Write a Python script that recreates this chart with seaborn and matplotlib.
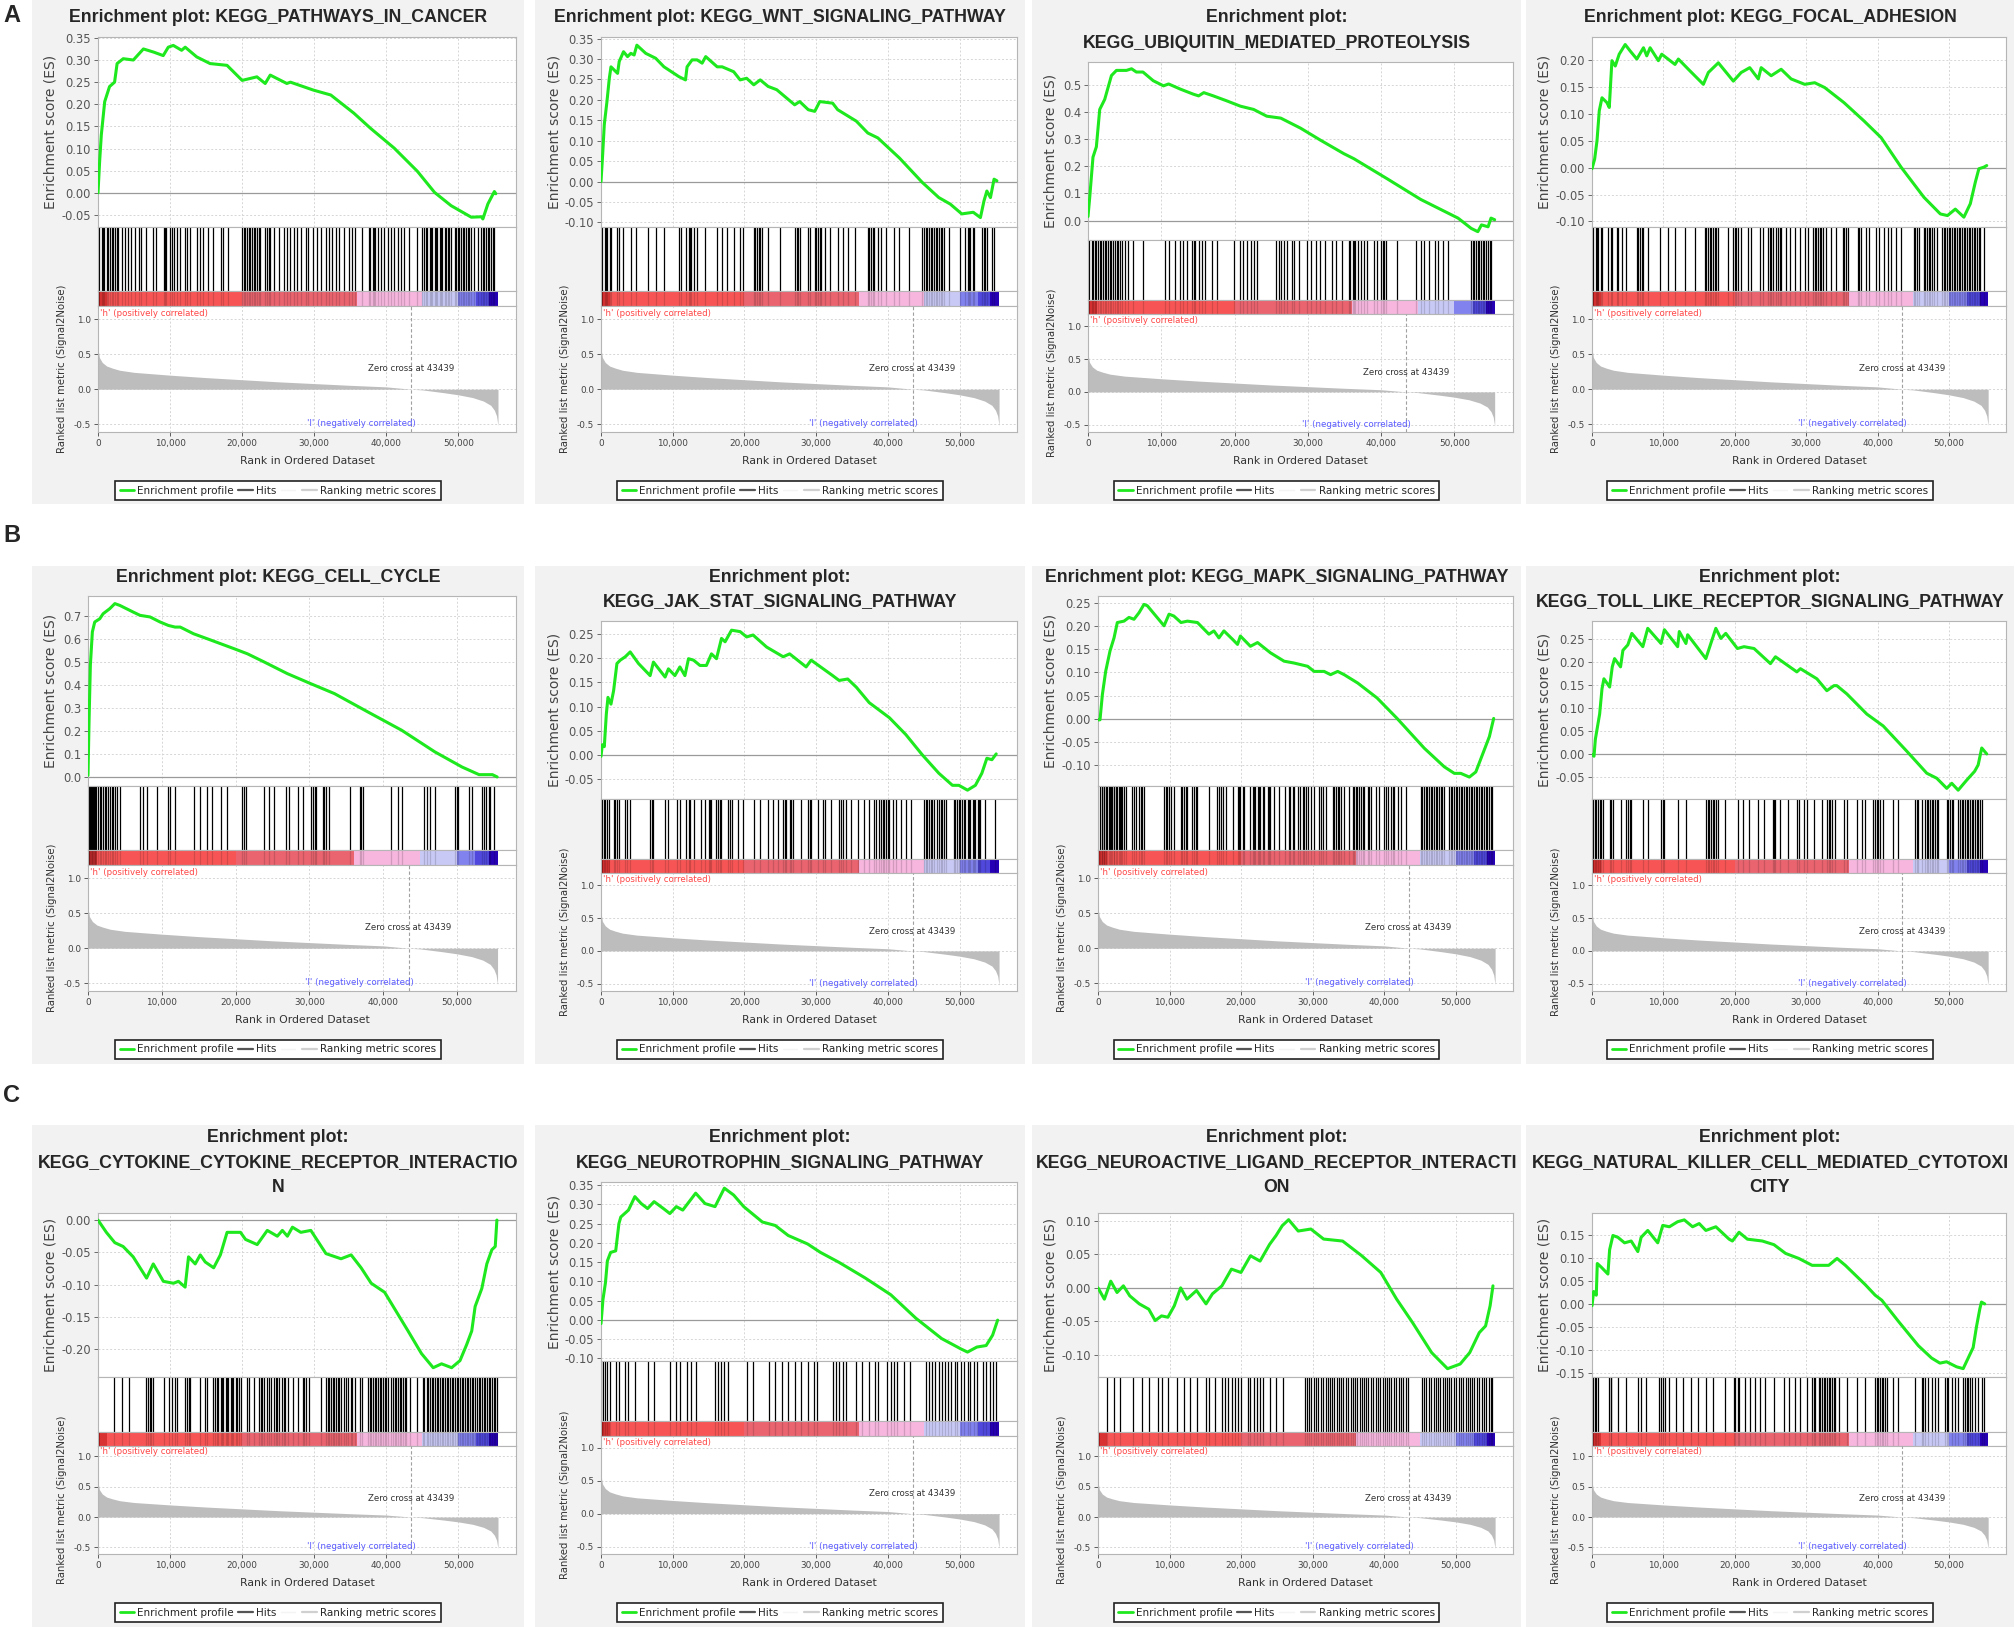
import numpy as np
import matplotlib
matplotlib.use("Agg")
import matplotlib.pyplot as plt
from matplotlib.lines import Line2D
from matplotlib.patches import Rectangle
import seaborn as sns

# ---------------- data (ranks in thousands) ----------------
# shared ranked list metric (Signal2Noise)
rank_x = [0, 0.2, 0.6, 1.2, 2.0, 3.0, 5.0, 7.5, 10.0, 15.0, 20.0, 25.0, 30.0, 35.0, 40.0,
          43.439, 45.0, 48.0, 50.0, 52.0, 53.5, 54.5, 55.0, 55.3, 55.5]
rank_y = [0.58, 0.45, 0.38, 0.33, 0.30, 0.27, 0.24, 0.22, 0.20, 0.165, 0.135, 0.105, 0.08, 0.055, 0.033,
          0.0, -0.01, -0.05, -0.08, -0.12, -0.17, -0.23, -0.30, -0.38, -0.52]
zero_cross = 43439

# colour strip under the hits
band_edges = [0, 0.3, 1.2, 20, 36, 45, 50, 52.5, 54.3, 55.5]
band_colors = ['#a51010', '#d83232', '#f75555', '#ea6470', '#f6b6de', '#c9c9f6', '#8282ee', '#5048dc', '#2600b4']

titles = [
    "Enrichment plot: KEGG_PATHWAYS_IN_CANCER",
    "Enrichment plot: KEGG_WNT_SIGNALING_PATHWAY",
    "Enrichment plot:\nKEGG_UBIQUITIN_MEDIATED_PROTEOLYSIS",
    "Enrichment plot: KEGG_FOCAL_ADHESION",
    "Enrichment plot: KEGG_CELL_CYCLE",
    "Enrichment plot:\nKEGG_JAK_STAT_SIGNALING_PATHWAY",
    "Enrichment plot: KEGG_MAPK_SIGNALING_PATHWAY",
    "Enrichment plot:\nKEGG_TOLL_LIKE_RECEPTOR_SIGNALING_PATHWAY",
    "Enrichment plot:\nKEGG_CYTOKINE_CYTOKINE_RECEPTOR_INTERACTIO\nN",
    "Enrichment plot:\nKEGG_NEUROTROPHIN_SIGNALING_PATHWAY",
    "Enrichment plot:\nKEGG_NEUROACTIVE_LIGAND_RECEPTOR_INTERACTI\nON",
    "Enrichment plot:\nKEGG_NATURAL_KILLER_CELL_MEDIATED_CYTOTOXI\nCITY",
]

# enrichment profiles: (rank in thousands, ES)
es_cancer = [(0, 0), (0.23, 0.072), (0.46, 0.131), (0.93, 0.206), (1.6, 0.24), (2.3, 0.25), (2.65, 0.292),
             (3.5, 0.303), (4.9, 0.30), (6.3, 0.325), (7.7, 0.318), (9.05, 0.31), (9.75, 0.329), (10.45, 0.333),
             (11.6, 0.322), (12.1, 0.329), (13.7, 0.307), (15.55, 0.292), (17.9, 0.288), (20.0, 0.254),
             (22.05, 0.262), (23.2, 0.247), (23.9, 0.266), (26.2, 0.247), (26.7, 0.25), (29.9, 0.232),
             (32.3, 0.221), (35.5, 0.18), (37.8, 0.146), (41.1, 0.101), (44.3, 0.049), (46.7, 0.001),
             (49.0, -0.029), (51.8, -0.055), (53.2, -0.054), (53.4, -0.059), (54.1, -0.025), (55.0, 0.003),
             (55.2, -0.002)]
es_wnt = [(0, 0), (0.23, 0.066), (0.46, 0.14), (0.83, 0.196), (1.16, 0.253), (1.39, 0.281), (1.85, 0.273),
          (2.31, 0.265), (2.54, 0.294), (3.14, 0.318), (3.7, 0.306), (4.16, 0.314), (4.62, 0.31), (5.0, 0.334),
          (6.24, 0.314), (7.62, 0.302), (8.78, 0.281), (10.17, 0.265), (10.86, 0.257), (11.78, 0.249),
          (12.0, 0.281), (12.7, 0.298), (13.4, 0.298), (14.1, 0.29), (14.6, 0.306), (16.2, 0.281), (16.9, 0.281),
          (18.5, 0.269), (19.4, 0.249), (20.3, 0.253), (21.3, 0.237), (22.2, 0.249), (23.3, 0.233),
          (24.5, 0.225), (27.0, 0.188), (27.7, 0.196), (28.9, 0.176), (29.8, 0.172), (30.5, 0.196),
          (32.3, 0.192), (33.0, 0.176), (35.6, 0.148), (37.2, 0.119), (38.6, 0.107), (41.6, 0.058),
          (44.8, -0.002), (47.1, -0.039), (48.7, -0.055), (50.3, -0.079), (51.9, -0.075), (52.9, -0.088),
          (53.4, -0.047), (53.8, -0.023), (54.3, -0.039), (54.8, 0.006), (55.2, 0.002)]
es_ubiquitin = [(0, 0.015), (0.23, 0.084), (0.68, 0.234), (1.14, 0.272), (1.6, 0.41), (2.28, 0.447),
                (2.74, 0.491), (3.2, 0.535), (3.88, 0.554), (5.25, 0.554), (5.94, 0.56), (6.6, 0.548),
                (7.5, 0.548), (8.9, 0.516), (10.3, 0.497), (11.0, 0.504), (12.6, 0.485), (14.4, 0.466),
                (15.1, 0.46), (15.8, 0.472), (17.1, 0.46), (19.0, 0.441), (20.8, 0.422), (22.6, 0.41),
                (24.4, 0.385), (26.3, 0.378), (29.0, 0.341), (31.7, 0.297), (34.9, 0.247), (36.3, 0.228),
                (40.9, 0.153), (45.4, 0.078), (50.5, 0.009), (52.3, -0.029), (53.2, -0.041), (53.7, -0.016),
                (54.6, -0.023), (55.0, 0.009), (55.5, 0.003)]
es_focal = [(0, -0.002), (0.37, 0.016), (0.7, 0.05), (1.02, 0.106), (1.4, 0.13), (2.09, 0.121), (2.42, 0.112),
            (2.79, 0.199), (3.26, 0.189), (3.81, 0.211), (4.65, 0.229), (5.35, 0.217), (6.28, 0.202),
            (7.21, 0.223), (7.67, 0.208), (8.14, 0.223), (9.3, 0.199), (9.77, 0.211), (11.63, 0.192),
            (12.1, 0.202), (13.5, 0.183), (15.6, 0.155), (16.3, 0.177), (17.7, 0.195), (19.8, 0.161),
            (20.9, 0.177), (22.1, 0.186), (23.3, 0.165), (23.7, 0.186), (25.1, 0.171), (26.5, 0.183),
            (27.9, 0.165), (29.8, 0.155), (31.2, 0.158), (32.6, 0.149), (35.3, 0.121), (38.1, 0.087),
            (40.5, 0.056), (43.3, 0.001), (46.5, -0.055), (48.8, -0.086), (49.8, -0.089), (50.9, -0.077),
            (52.1, -0.092), (53.0, -0.067), (53.7, -0.027), (54.2, -0.002), (54.9, 0.001), (55.3, 0.004)]
es_cellcycle = [(0, 0.007), (0.14, 0.239), (0.32, 0.485), (0.59, 0.63), (0.91, 0.673), (1.59, 0.687),
                (2.05, 0.709), (2.95, 0.731), (3.64, 0.753), (4.32, 0.745), (6.14, 0.716), (7.05, 0.702),
                (8.41, 0.695), (9.77, 0.673), (10.9, 0.658), (11.8, 0.651), (12.5, 0.651), (14.3, 0.622),
                (16.1, 0.601), (17.95, 0.579), (19.8, 0.557), (21.6, 0.535), (23.9, 0.499), (27.0, 0.449),
                (30.2, 0.405), (33.4, 0.362), (37.95, 0.282), (42.5, 0.203), (47.0, 0.109), (50.7, 0.043),
                (53.0, 0.01), (54.8, 0.01), (55.45, 0.0)]
es_jakstat = [(0, -0.003), (0.19, 0.021), (0.46, 0.017), (0.74, 0.084), (0.97, 0.119), (1.39, 0.105),
              (1.76, 0.133), (2.22, 0.189), (2.69, 0.196), (3.38, 0.203), (4.07, 0.213), (5.23, 0.189),
              (6.85, 0.164), (7.31, 0.192), (8.94, 0.161), (9.4, 0.178), (10.3, 0.164), (11.0, 0.182),
              (11.7, 0.164), (12.2, 0.199), (12.9, 0.196), (13.8, 0.185), (14.7, 0.185), (15.4, 0.209),
              (16.1, 0.199), (16.8, 0.241), (17.3, 0.234), (18.2, 0.258), (19.4, 0.255), (20.3, 0.244),
              (21.2, 0.248), (23.1, 0.223), (25.4, 0.203), (26.3, 0.209), (28.6, 0.182), (29.3, 0.196),
              (32.3, 0.164), (33.2, 0.154), (34.4, 0.157), (35.6, 0.14), (37.4, 0.108), (40.2, 0.077),
              (42.5, 0.042), (44.8, 0.0), (47.1, -0.038), (49.0, -0.063), (49.9, -0.063), (51.1, -0.073),
              (52.2, -0.063), (53.1, -0.038), (53.8, -0.007), (54.5, -0.01), (55.1, 0.002)]
es_mapk = [(0, -0.002), (0.28, -0.002), (0.61, 0.052), (1.07, 0.102), (1.68, 0.146), (2.24, 0.174),
           (2.7, 0.207), (3.63, 0.21), (4.33, 0.218), (5.03, 0.214), (5.73, 0.228), (6.43, 0.246),
           (6.9, 0.243), (9.23, 0.2), (9.93, 0.225), (10.6, 0.221), (11.6, 0.207), (12.5, 0.21), (13.9, 0.207),
           (15.5, 0.182), (16.2, 0.189), (16.9, 0.174), (17.6, 0.189), (18.8, 0.171), (19.5, 0.16),
           (19.9, 0.178), (21.3, 0.156), (22.3, 0.164), (24.1, 0.142), (26.0, 0.124), (27.4, 0.12),
           (29.3, 0.113), (30.2, 0.102), (31.6, 0.102), (32.5, 0.095), (33.5, 0.102), (34.4, 0.095),
           (36.3, 0.077), (39.0, 0.045), (41.8, 0.001), (45.6, -0.063), (48.4, -0.103), (49.8, -0.117),
           (50.7, -0.117), (51.9, -0.125), (52.8, -0.114), (53.7, -0.078), (54.7, -0.038), (55.3, 0.001)]
es_toll = [(0, -0.001), (0.28, -0.005), (0.47, 0.032), (0.74, 0.057), (1.07, 0.087), (1.4, 0.142),
           (1.67, 0.164), (2.47, 0.146), (2.84, 0.19), (3.16, 0.208), (4.0, 0.19), (4.33, 0.226), (5.02, 0.238),
           (5.58, 0.263), (7.12, 0.234), (7.81, 0.274), (9.67, 0.241), (10.14, 0.271), (12.0, 0.234),
           (12.23, 0.267), (13.16, 0.241), (13.4, 0.26), (15.95, 0.208), (16.65, 0.241), (17.35, 0.274),
           (18.05, 0.252), (18.74, 0.263), (20.37, 0.23), (21.3, 0.234), (22.7, 0.23), (25.0, 0.197),
           (25.7, 0.212), (28.7, 0.179), (29.2, 0.186), (31.5, 0.164), (32.9, 0.138), (33.9, 0.149),
           (34.3, 0.149), (35.7, 0.131), (38.5, 0.087), (40.8, 0.061), (44.1, 0.006), (46.9, -0.042),
           (48.3, -0.053), (49.7, -0.075), (50.4, -0.064), (51.3, -0.079), (52.5, -0.057), (53.6, -0.038),
           (54.1, -0.024), (54.6, 0.013), (55.3, 0.0)]
es_cytokine = [(0, 0), (1.16, -0.019), (2.33, -0.035), (3.49, -0.041), (4.88, -0.057), (6.74, -0.09),
               (7.67, -0.068), (9.07, -0.095), (10.47, -0.098), (11.16, -0.095), (12.09, -0.104),
               (12.56, -0.057), (13.49, -0.068), (14.19, -0.054), (14.88, -0.065), (16.05, -0.074),
               (16.98, -0.054), (17.91, -0.019), (19.77, -0.019), (20.47, -0.03), (22.09, -0.038),
               (23.49, -0.016), (24.88, -0.025), (25.58, -0.016), (26.28, -0.025), (26.98, -0.011),
               (28.14, -0.019), (29.53, -0.016), (31.63, -0.052), (33.72, -0.06), (35.12, -0.054),
               (36.51, -0.074), (37.91, -0.098), (39.77, -0.112), (43.02, -0.172), (44.88, -0.207),
               (46.51, -0.229), (47.67, -0.223), (49.07, -0.229), (50.23, -0.218), (51.16, -0.193),
               (51.86, -0.172), (52.33, -0.134), (53.26, -0.106), (53.95, -0.068), (54.65, -0.046),
               (55.12, -0.041), (55.35, 0.0)]
es_neurotrophin = [(0, -0.01), (0.27, 0.052), (0.62, 0.096), (0.89, 0.153), (1.34, 0.175), (2.05, 0.179),
                   (2.5, 0.25), (2.76, 0.267), (3.83, 0.285), (4.72, 0.32), (5.6, 0.302), (6.5, 0.289),
                   (7.4, 0.307), (8.7, 0.289), (9.6, 0.276), (10.5, 0.294), (11.4, 0.285), (12.3, 0.307),
                   (13.2, 0.329), (14.5, 0.302), (15.9, 0.294), (17.2, 0.342), (18.5, 0.324), (19.9, 0.294),
                   (22.5, 0.254), (24.3, 0.245), (26.1, 0.219), (28.8, 0.197), (30.6, 0.175), (33.2, 0.149),
                   (36.8, 0.109), (40.4, 0.065), (43.9, 0.004), (47.5, -0.049), (50.2, -0.076), (51.1, -0.084),
                   (52.4, -0.071), (53.7, -0.067), (54.6, -0.04), (55.3, -0.001)]
es_neuroactive = [(0, 0.0), (0.89, -0.017), (1.78, 0.01), (2.66, -0.007), (3.55, 0.003), (4.44, -0.012),
                  (5.77, -0.024), (7.1, -0.032), (7.99, -0.049), (8.88, -0.042), (9.77, -0.044), (10.66, -0.027),
                  (11.55, 0.0), (12.43, -0.017), (13.77, -0.004), (15.1, -0.024), (15.99, -0.009), (17.32, 0.003),
                  (18.65, 0.028), (19.98, 0.023), (21.31, 0.048), (22.65, 0.04), (23.98, 0.065), (24.87, 0.078),
                  (25.75, 0.093), (26.64, 0.102), (27.98, 0.085), (29.75, 0.088), (31.53, 0.073), (34.19, 0.07),
                  (36.86, 0.048), (39.52, 0.023), (41.74, -0.017), (43.96, -0.052), (46.63, -0.097),
                  (48.85, -0.121), (50.62, -0.114), (51.95, -0.097), (53.29, -0.067), (54.17, -0.057),
                  (54.8, -0.027), (55.2, 0.003)]
es_nk = [(0, -0.004), (0.23, 0.027), (0.6, 0.019), (0.74, 0.088), (1.3, 0.08), (2.23, 0.065), (2.47, 0.118),
         (2.93, 0.149), (3.63, 0.145), (4.56, 0.133), (5.49, 0.137), (6.42, 0.114), (6.88, 0.145), (7.81, 0.16),
         (9.21, 0.133), (9.91, 0.171), (10.84, 0.168), (12.0, 0.179), (12.93, 0.183), (14.09, 0.168),
         (15.02, 0.175), (15.95, 0.16), (17.35, 0.168), (19.21, 0.141), (19.67, 0.137), (20.6, 0.156),
         (21.77, 0.141), (23.86, 0.137), (25.49, 0.129), (27.12, 0.11), (28.98, 0.099), (30.84, 0.084),
         (32.0, 0.084), (33.16, 0.084), (34.33, 0.099), (35.49, 0.084), (38.28, 0.042), (39.67, 0.019),
         (40.6, 0.008), (42.93, -0.038), (45.72, -0.091), (47.58, -0.118), (48.74, -0.129), (49.67, -0.126),
         (51.07, -0.137), (52.0, -0.141), (52.7, -0.118), (53.4, -0.095), (53.86, -0.05), (54.33, -0.011),
         (54.56, 0.004), (55.02, 0.0)]

# hit positions (rank in thousands)
hits_cancer = [0, 0.2, 0.5, 0.7, 0.9, 1.2, 1.4, 1.6, 1.9, 2.1, 2.3, 2.6, 2.8, 3.3, 3.7, 4.2, 4.6, 5.1, 5.7, 6.0,
               6.7, 7.6, 8.0, 9.1, 9.3, 9.5, 10.0, 10.2, 10.5, 10.9, 11.4, 12.1, 12.3, 12.8, 13.7, 14.2, 14.6,
               15.3, 16.0, 17.0, 17.4, 18.1, 20.0, 20.2, 20.4, 20.7, 20.9, 21.1, 21.4, 21.6, 21.8, 22.1, 22.3,
               22.5, 23.2, 23.4, 23.7, 23.9, 24.4, 25.1, 25.8, 26.2, 26.7, 27.2, 27.6, 28.1, 28.8, 29.2, 29.9,
               30.4, 30.9, 31.6, 32.0, 32.5, 33.0, 33.4, 34.1, 34.8, 35.3, 35.7, 36.7, 37.6, 37.8, 38.1, 38.3,
               38.5, 38.8, 39.2, 39.7, 40.2, 40.6, 41.1, 41.6, 42.0, 42.5, 43.2, 44.3, 45.0, 45.3, 45.5, 45.7,
               46.0, 46.2, 46.4, 46.7, 46.9, 47.1, 47.4, 47.6, 47.8, 48.1, 48.3, 48.5, 48.7, 49.0, 49.5, 49.7,
               49.9, 50.1, 50.4, 50.6, 50.8, 51.1, 51.3, 51.5, 51.7, 52.2, 52.7, 53.2, 53.4, 53.6, 53.9, 54.1,
               54.3, 54.5, 54.8, 55.0]
hits_wnt = [0, 0.2, 0.5, 0.7, 0.9, 1.2, 1.4, 2.3, 2.5, 3.1, 4.2, 4.9, 6.5, 7.6, 8.8, 10.9, 11.1, 11.9, 12.2,
            12.4, 12.6, 12.9, 13.4, 14.5, 16.2, 16.9, 17.6, 18.5, 19.4, 19.8, 21.3, 21.5, 21.7, 22.0, 22.2, 22.4,
            23.3, 25.0, 27.0, 27.3, 27.5, 27.7, 28.9, 29.1, 29.8, 30.0, 30.3, 30.5, 30.7, 31.2, 31.9, 33.0, 33.7,
            34.4, 35.4, 37.2, 37.4, 37.7, 37.9, 38.1, 38.6, 39.1, 39.7, 40.9, 41.6, 43.0, 44.8, 45.1, 45.3, 45.5,
            45.8, 46.0, 46.2, 46.4, 46.7, 46.9, 47.1, 47.4, 47.6, 47.8, 48.5, 50.1, 50.8, 51.1, 51.3, 51.5, 51.8,
            52.0, 53.1, 53.4, 53.6, 53.8, 54.5, 54.8]
hits_ubiquitin = [0.2, 0.5, 0.7, 0.9, 1.1, 1.4, 1.6, 1.8, 2.1, 2.3, 2.5, 2.7, 3.0, 3.2, 3.4, 3.7, 3.9, 4.1, 4.3,
                  4.6, 5.0, 5.5, 6.2, 7.5, 10.5, 11.0, 11.9, 12.6, 13.0, 13.5, 14.2, 14.4, 14.6, 15.1, 15.5, 16.0,
                  16.9, 17.6, 19.9, 20.8, 21.2, 21.7, 22.2, 22.6, 23.1, 25.6, 26.0, 26.3, 26.7, 27.2, 27.9, 28.1,
                  28.8, 29.9, 30.4, 31.1, 31.7, 32.4, 33.3, 33.8, 34.7, 35.6, 35.8, 36.1, 36.3, 36.5, 36.8, 37.2,
                  37.7, 38.1, 39.0, 39.5, 40.0, 40.2, 40.4, 40.6, 42.2, 44.8, 45.4, 45.9, 46.6, 47.3, 47.7, 48.4,
                  49.1, 52.3, 52.5, 52.7, 53.0, 53.2, 53.4, 53.7, 53.9, 54.1, 54.3, 54.6, 54.8, 55.0]
hits_focal = [0, 0.2, 0.5, 0.7, 0.9, 1.2, 1.4, 2.3, 2.6, 2.8, 3.5, 3.7, 4.2, 4.7, 6.3, 6.5, 6.7, 7.0, 7.2, 7.9,
              9.5, 10.7, 11.6, 13.0, 14.4, 15.8, 16.0, 16.3, 16.5, 16.7, 17.0, 17.2, 17.4, 17.7, 19.1, 19.8, 20.0,
              20.2, 20.5, 20.9, 21.9, 22.3, 23.5, 24.0, 24.6, 24.9, 25.1, 25.4, 25.8, 26.0, 26.3, 26.5, 27.2,
              27.7, 28.4, 29.1, 29.8, 30.2, 30.9, 31.2, 31.4, 31.6, 31.9, 32.1, 32.3, 32.8, 33.5, 34.2, 35.1,
              35.3, 35.6, 35.8, 37.2, 37.4, 37.7, 38.4, 38.8, 39.8, 40.2, 40.9, 41.4, 41.9, 42.6, 43.3, 45.1,
              45.3, 45.6, 45.8, 46.5, 46.7, 47.0, 47.2, 47.4, 47.7, 47.9, 48.4, 49.1, 49.3, 49.5, 49.8, 50.0,
              50.2, 50.5, 50.7, 50.9, 51.2, 51.4, 51.6, 51.9, 52.1, 52.3, 52.6, 52.8, 53.0, 53.3, 53.5, 53.7,
              54.0, 54.2, 54.4, 54.9]
hits_cellcycle = [0, 0.1, 0.2, 0.3, 0.4, 0.5, 0.6, 0.7, 0.8, 0.9, 1.0, 1.1, 1.4, 1.6, 1.8, 2.0, 2.3, 2.5, 2.7,
                  3.0, 3.2, 3.4, 3.6, 3.9, 4.3, 7.0, 7.5, 8.0, 9.3, 10.9, 11.1, 11.8, 14.3, 15.2, 16.1, 16.8,
                  18.0, 18.9, 20.9, 21.1, 21.4, 23.9, 24.5, 25.2, 26.8, 27.3, 28.4, 29.1, 30.2, 30.5, 30.7, 30.9,
                  31.8, 32.0, 32.3, 32.7, 35.5, 36.8, 37.0, 37.3, 41.1, 42.0, 42.5, 45.5, 45.9, 46.4, 47.0, 49.8,
                  50.0, 50.2, 51.6, 52.0, 53.4, 53.6, 53.9, 54.3, 54.5, 55.0]
hits_jakstat = [0.1, 0.4, 0.6, 0.8, 1.1, 1.8, 2.0, 2.2, 2.5, 3.4, 3.6, 4.1, 6.9, 7.1, 7.3, 8.9, 9.4, 10.6, 11.0,
                11.9, 12.2, 12.4, 12.9, 14.0, 14.5, 15.0, 15.2, 15.4, 16.1, 16.3, 16.6, 16.8, 17.7, 18.0, 18.2,
                19.1, 19.8, 21.4, 22.1, 23.3, 24.0, 24.7, 25.4, 25.6, 25.8, 26.3, 26.5, 26.8, 27.9, 28.8, 29.1,
                29.3, 30.2, 30.9, 31.2, 32.1, 33.2, 33.5, 33.7, 34.2, 34.9, 35.8, 36.7, 37.4, 38.1, 38.3, 38.8,
                39.0, 39.3, 39.5, 39.7, 40.0, 40.2, 40.7, 41.1, 41.8, 42.5, 43.2, 45.1, 45.3, 45.5, 45.7, 46.0,
                46.2, 46.4, 46.9, 47.1, 47.4, 47.6, 47.8, 48.1, 49.2, 49.4, 49.7, 49.9, 50.1, 50.4, 50.6, 50.8,
                51.1, 51.3, 51.5, 51.8, 52.0, 52.2, 52.5, 52.7, 52.9, 53.6, 55.0]
hits_mapk = [0.3, 0.5, 0.6, 0.8, 0.9, 1.1, 1.3, 1.5, 1.7, 1.8, 2.0, 2.2, 2.3, 2.5, 2.7, 2.9, 3.1, 3.2, 3.4, 3.6,
             3.9, 4.8, 5.0, 5.3, 5.7, 6.0, 6.2, 6.4, 9.2, 9.5, 9.7, 9.9, 10.2, 10.6, 11.6, 11.8, 12.0, 12.3, 12.5,
             13.2, 13.4, 13.7, 13.9, 15.5, 16.7, 16.9, 17.2, 17.4, 17.9, 18.8, 19.5, 19.7, 19.9, 20.2, 20.4, 21.3,
             21.6, 21.8, 22.0, 22.3, 22.5, 22.7, 23.0, 23.2, 23.7, 23.9, 24.1, 24.6, 25.3, 26.2, 26.7, 26.9, 27.2,
             27.4, 27.9, 28.3, 28.6, 28.8, 29.0, 29.3, 29.7, 30.2, 30.9, 31.1, 31.4, 31.8, 32.8, 33.0, 33.2, 33.5,
             33.7, 33.9, 34.4, 35.1, 35.6, 35.8, 36.0, 36.2, 36.5, 36.7, 37.0, 37.2, 37.7, 37.9, 38.1, 38.8, 39.3,
             40.0, 40.2, 40.5, 40.9, 41.2, 41.4, 41.9, 42.3, 43.0, 45.1, 45.3, 45.6, 45.8, 46.0, 46.3, 46.5, 46.7,
             47.0, 47.2, 47.4, 47.7, 47.9, 48.1, 48.4, 49.1, 49.3, 49.5, 49.8, 50.0, 50.2, 50.5, 50.7, 50.9, 51.2,
             51.4, 51.6, 51.9, 52.1, 52.3, 52.6, 52.8, 53.0, 53.3, 53.5, 53.7, 54.0, 54.2, 54.4, 54.7, 54.9, 55.1]
hits_toll = [0.1, 0.4, 0.6, 0.8, 1.1, 1.3, 1.5, 2.5, 2.7, 2.9, 4.0, 4.8, 5.0, 5.3, 5.5, 7.1, 7.8, 9.7, 9.9, 10.1,
             12.0, 13.2, 16.0, 16.2, 16.4, 16.7, 16.9, 17.1, 17.4, 17.6, 18.7, 20.4, 21.1, 22.0, 23.2, 24.1, 25.3,
             25.5, 25.7, 26.4, 27.4, 28.7, 29.0, 29.7, 30.1, 31.1, 32.2, 32.9, 33.2, 33.4, 33.6, 34.1, 35.3, 35.7,
             37.1, 37.8, 38.3, 39.4, 39.7, 39.9, 40.1, 40.4, 40.8, 42.2, 42.9, 45.3, 45.5, 45.7, 46.2, 46.7, 46.9,
             47.1, 47.4, 47.6, 47.8, 48.1, 48.3, 48.5, 49.7, 49.9, 50.1, 50.4, 50.6, 51.3, 51.5, 51.8, 52.0, 52.2,
             52.5, 52.7, 52.9, 53.2, 53.4, 53.6, 53.9, 54.1, 54.3, 54.6]
hits_cytokine = [2.2, 3.3, 4.3, 6.7, 7.0, 7.2, 7.4, 7.7, 9.1, 9.8, 10.2, 10.7, 10.9, 12.1, 12.3, 12.6, 12.8, 14.2,
                 14.9, 15.1, 16.0, 16.3, 16.5, 16.7, 17.0, 17.2, 17.4, 17.7, 17.9, 18.1, 18.4, 18.6, 18.8, 19.1,
                 19.3, 19.5, 19.8, 20.7, 20.9, 21.6, 22.3, 22.6, 22.8, 23.0, 23.5, 23.7, 24.0, 24.4, 24.7, 24.9,
                 25.1, 25.6, 25.8, 26.0, 26.3, 27.0, 27.7, 28.4, 28.6, 28.8, 29.3, 30.9, 31.6, 31.9, 32.1, 32.3,
                 32.6, 32.8, 33.0, 33.3, 33.5, 33.7, 34.2, 34.4, 34.7, 35.1, 35.3, 35.6, 36.3, 36.7, 37.4, 37.7,
                 37.9, 38.1, 38.4, 38.6, 38.8, 39.1, 39.3, 39.5, 39.8, 40.0, 40.2, 40.7, 40.9, 41.2, 41.4, 41.6,
                 41.9, 42.1, 42.3, 42.6, 42.8, 43.3, 44.2, 45.1, 45.3, 45.6, 45.8, 46.0, 46.3, 46.5, 46.7, 47.0,
                 47.2, 47.4, 47.7, 47.9, 48.1, 48.4, 48.6, 48.8, 49.1, 49.3, 49.5, 49.8, 50.0, 50.2, 50.5, 50.7,
                 50.9, 51.2, 51.4, 51.6, 51.9, 52.1, 52.3, 52.6, 52.8, 53.0, 53.3, 53.5, 53.7, 54.0, 54.2, 54.4,
                 54.7, 54.9, 55.1, 55.3]
hits_neurotrophin = [0, 0.3, 0.5, 0.8, 1.2, 2.1, 2.5, 3.4, 3.8, 4.7, 6.5, 7.4, 9.6, 10.5, 11.0, 12.0, 12.6, 13.2,
                     15.9, 16.3, 16.8, 17.2, 17.7, 20.3, 21.2, 23.4, 24.3, 25.2, 26.1, 27.0, 27.9, 28.8, 29.7,
                     30.1, 32.4, 32.8, 33.2, 33.7, 34.1, 35.5, 36.4, 37.3, 38.2, 38.6, 39.9, 40.4, 40.8, 41.3,
                     42.2, 43.1, 45.3, 45.7, 46.2, 46.6, 47.1, 47.5, 48.0, 48.4, 48.8, 49.3, 49.7, 50.2, 50.6,
                     51.1, 51.5, 52.0, 52.4, 53.3, 53.7, 54.2, 54.6, 55.1]
hits_neuroactive = [1.3, 2.2, 3.1, 4.9, 6.2, 7.1, 8.4, 8.9, 9.8, 11.1, 12.0, 12.9, 13.8, 15.1, 15.5, 16.4, 17.3,
                    17.8, 18.2, 18.7, 19.1, 19.5, 20.0, 20.9, 21.3, 21.8, 22.2, 22.6, 23.1, 24.0, 24.9, 25.8,
                    28.9, 29.2, 29.5, 29.8, 30.2, 30.5, 30.8, 31.1, 31.4, 31.8, 32.1, 32.4, 32.7, 33.0, 33.4,
                    33.7, 34.0, 34.3, 34.6, 35.0, 35.3, 35.6, 35.9, 36.2, 36.6, 36.9, 37.2, 37.5, 37.8, 38.2,
                    38.5, 38.8, 39.1, 39.4, 39.8, 40.1, 40.4, 40.7, 41.0, 41.4, 41.7, 42.0, 42.3, 42.6, 43.0,
                    43.3, 45.3, 45.6, 45.9, 46.2, 46.6, 46.9, 47.2, 47.5, 47.8, 48.2, 48.5, 48.8, 49.1, 49.4,
                    49.8, 50.1, 50.4, 50.7, 51.0, 51.4, 51.7, 52.0, 52.3, 52.6, 53.0, 53.3, 53.6, 53.9, 54.2,
                    54.6, 54.9, 55.1]
hits_nk = [0.1, 0.4, 0.6, 0.8, 2.4, 2.6, 2.7, 3.6, 4.8, 6.4, 6.9, 7.6, 9.4, 9.7, 9.9, 10.2, 10.8, 11.8, 12.7,
           13.9, 14.8, 16.0, 16.9, 18.7, 19.9, 20.1, 20.4, 20.6, 21.5, 22.2, 22.9, 23.6, 24.3, 25.5, 26.9, 27.6,
           28.5, 29.2, 30.1, 30.8, 31.1, 31.3, 31.8, 32.0, 32.2, 32.5, 32.7, 32.9, 33.2, 33.4, 33.6, 33.9, 34.1,
           34.6, 35.7, 37.1, 38.3, 39.7, 39.9, 40.1, 40.4, 40.6, 40.8, 41.1, 41.3, 42.2, 42.9, 45.3, 46.2, 46.4,
           46.7, 47.1, 47.6, 48.1, 48.5, 49.4, 49.7, 49.9, 50.4, 50.8, 51.3, 52.0, 52.2, 52.5, 52.7, 52.9, 53.2,
           53.6, 54.1, 54.6, 54.9]

# enrichment score axis: ticks, range, decimals
es_ticks = [
    [-0.05, 0.0, 0.05, 0.10, 0.15, 0.20, 0.25, 0.30, 0.35],
    [-0.10, -0.05, 0.0, 0.05, 0.10, 0.15, 0.20, 0.25, 0.30, 0.35],
    [0.0, 0.1, 0.2, 0.3, 0.4, 0.5],
    [-0.10, -0.05, 0.0, 0.05, 0.10, 0.15, 0.20],
    [0.0, 0.1, 0.2, 0.3, 0.4, 0.5, 0.6, 0.7],
    [-0.05, 0.0, 0.05, 0.10, 0.15, 0.20, 0.25],
    [-0.10, -0.05, 0.0, 0.05, 0.10, 0.15, 0.20, 0.25],
    [-0.05, 0.0, 0.05, 0.10, 0.15, 0.20, 0.25],
    [-0.20, -0.15, -0.10, -0.05, 0.0],
    [-0.10, -0.05, 0.0, 0.05, 0.10, 0.15, 0.20, 0.25, 0.30, 0.35],
    [-0.10, -0.05, 0.0, 0.05, 0.10],
    [-0.15, -0.10, -0.05, 0.0, 0.05, 0.10, 0.15],
]
es_lims = [(-0.078, 0.352), (-0.112, 0.354), (-0.073, 0.585), (-0.111, 0.243),
           (-0.041, 0.786), (-0.092, 0.277), (-0.145, 0.264), (-0.099, 0.29),
           (-0.244, 0.011), (-0.108, 0.358), (-0.134, 0.112), (-0.16, 0.198)]
es_decimals = [2, 2, 1, 2, 1, 2, 2, 2, 2, 2, 2, 2]

profiles = [es_cancer, es_wnt, es_ubiquitin, es_focal, es_cellcycle, es_jakstat,
            es_mapk, es_toll, es_cytokine, es_neurotrophin, es_neuroactive, es_nk]
hit_sets = [hits_cancer, hits_wnt, hits_ubiquitin, hits_focal, hits_cellcycle, hits_jakstat,
            hits_mapk, hits_toll, hits_cytokine, hits_neurotrophin, hits_neuroactive, hits_nk]
row_letters = ['A', 'B', 'C']
legend_labels = ['Enrichment profile', 'Hits', '', 'Ranking metric scores']

# ---------------- layout (pixels) ----------------
W, H = 2016, 1627
col_left = [32, 535, 1032, 1526]
col_right = [524, 1025, 1521, 2014]
row_top = [0, 566, 1125]
row_bottom = [504, 1064, 1627]
title_y = [18, 577, 1138]
legend_base = [503, 1062, 1625]
letter_y = [15, 536, 1095]

GREEN = '#1ee81e'
XMAX = 58000

sns.set_theme(style="white")
plt.rcParams['font.family'] = ['DejaVu Sans']

fig = plt.figure(figsize=(W / 100, H / 100), dpi=100)
fig.patch.set_facecolor('white')


def add_ax(l, t, r, b):
    return fig.add_axes([l / W, 1 - b / H, (r - l) / W, (b - t) / H])


def style_spines(ax, color='#b5b5b5'):
    for s in ax.spines.values():
        s.set_color(color)
        s.set_linewidth(0.8)


def draw_panel(i):
    row, col = divmod(i, 4)
    x0, x1 = col_left[col], col_right[col]
    y0, y1 = row_top[row], row_bottom[row]
    fig.add_artist(Rectangle((x0 / W, 1 - y1 / H), (x1 - x0) / W, (y1 - y0) / H,
                             transform=fig.transFigure, facecolor='#f2f2f2',
                             edgecolor='none', zorder=-10))

    lines = titles[i].split('\n')
    ty = title_y[row]
    for j, line in enumerate(lines):
        fig.text(((x0 + x1) / 2) / W, 1 - (ty + 25 * j) / H, line, ha='center', va='center',
                 fontsize=12.8, fontweight='bold', family=['Liberation Sans', 'DejaVu Sans'])

    top = ty + 25 * (len(lines) - 1) + 19 + (6 if len(lines) == 3 else 0)
    bottom = legend_base[row] - 71
    h = bottom - top
    dec = es_decimals[i]
    pad = 56 if dec == 1 else 66
    left, right = x0 + pad, x1 - 8
    es_b = top + 0.482 * h
    hit_b = es_b + 0.16 * h
    bar_b = hit_b + 0.04 * h
    xt = [0, 10000, 20000, 30000, 40000, 50000]

    # enrichment profile
    ax = add_ax(left, top, right, es_b)
    ex = [p[0] * 1000 for p in profiles[i]]
    ey = [p[1] for p in profiles[i]]
    ax.axhline(0, color='#9a9a9a', lw=0.9, zorder=1)
    sns.lineplot(x=ex, y=ey, ax=ax, color=GREEN, linewidth=2.2, sort=False, estimator=None, zorder=3)
    ax.set_xlim(0, XMAX)
    ax.set_ylim(*es_lims[i])
    ax.set_yticks(es_ticks[i])
    ax.set_yticklabels([f"{t:.{dec}f}" for t in es_ticks[i]])
    ax.set_xticks(xt)
    ax.tick_params(axis='x', bottom=False, labelbottom=False)
    ax.tick_params(axis='y', left=True, labelsize=8.3, colors='#555555', length=3, width=0.6, pad=2)
    ax.grid(True, ls=(0, (2, 2)), color='#d6d6d6', lw=0.7)
    ax.set_ylabel('Enrichment score (ES)', fontsize=10, color='#444444')
    ax.yaxis.set_label_coords(-(pad - 26) / (right - left), 0.5)
    ax.set_facecolor('white')
    style_spines(ax)

    # hits
    axh = add_ax(left, es_b, right, hit_b)
    axh.vlines([v * 1000 for v in hit_sets[i]], 0, 1, color='black', lw=0.9)
    axh.set_xlim(0, XMAX)
    axh.set_ylim(0, 1)
    axh.set_xticks([])
    axh.set_yticks([])
    axh.set_facecolor('white')
    style_spines(axh)

    # colour strip
    axc = add_ax(left, hit_b, right, bar_b)
    for e0, e1, c in zip(band_edges[:-1], band_edges[1:], band_colors):
        axc.axvspan(e0 * 1000, e1 * 1000, color=c, lw=0)
    axc.vlines([v * 1000 for v in hit_sets[i]], 0, 1, color='black', lw=0.9, alpha=0.15)
    axc.set_xlim(0, XMAX)
    axc.set_ylim(0, 1)
    axc.set_xticks([])
    axc.set_yticks([])
    axc.set_facecolor('white')
    style_spines(axc)

    # ranked list metric
    axr = add_ax(left, bar_b, right, bottom)
    rx = [v * 1000 for v in rank_x]
    axr.fill_between(rx, rank_y, 0, color='#bdbdbd', lw=0, zorder=2)
    axr.axvline(zero_cross, color='#a0a0a0', ls=(0, (3, 2)), lw=0.8, zorder=3)
    axr.set_xlim(0, XMAX)
    axr.set_ylim(-0.61, 1.18)
    axr.set_yticks([-0.5, 0.0, 0.5, 1.0])
    axr.set_yticklabels(['-0.5', '0.0', '0.5', '1.0'])
    axr.set_xticks(xt)
    axr.set_xticklabels(['0', '10,000', '20,000', '30,000', '40,000', '50,000'])
    axr.tick_params(axis='both', labelsize=6.4, colors='#444444', length=3, width=0.6, pad=2,
                    left=True, bottom=True)
    axr.grid(True, ls=(0, (2, 2)), color='#d6d6d6', lw=0.7)
    axr.text(300, 1.08, "'h' (positively correlated)", color='#ff4646', fontsize=6.2, va='center', ha='left')
    axr.text(44100, -0.49, "'l' (negatively correlated)", color='#5a5aff', fontsize=6.2, va='center', ha='right')
    axr.text(43400, 0.30, "Zero cross at 43439", color='#333333', fontsize=6.2, va='center', ha='center')
    hr = bottom - bar_b
    axr.set_ylabel('Ranked list metric (Signal2Noise)', fontsize=7.3, color='#333333')
    axr.yaxis.set_label_coords(-31 / (right - left), 0.5)
    axr.set_xlabel('Rank in Ordered Dataset', fontsize=7.8, color='#333333')
    axr.xaxis.set_label_coords(0.5, -24 / hr)
    axr.set_facecolor('white')
    style_spines(axr)

    # legend (third entry is the blank white swatch GSEA draws)
    handles = [Line2D([], [], color=GREEN, lw=2),
               Line2D([], [], color='#555555', lw=1.6),
               Line2D([], [], color='#f4f4f4', lw=1.0),
               Line2D([], [], color='#d0d0d0', lw=1.6)]
    leg = fig.legend(handles, legend_labels,
                     loc='center', bbox_to_anchor=(((x0 + x1) / 2) / W, 1 - (legend_base[row] - 12.5) / H),
                     ncol=4, fontsize=7.5, frameon=True, fancybox=False, edgecolor='#222222',
                     framealpha=1, handlelength=1.4, handletextpad=0.3, columnspacing=0.4,
                     borderpad=0.45)
    leg.get_frame().set_linewidth(1.2)


for i in range(12):
    draw_panel(i)

for r in range(3):
    fig.text(3 / W, 1 - letter_y[r] / H, row_letters[r], fontsize=17, fontweight='bold',
             family=['Liberation Sans', 'DejaVu Sans'], ha='left', va='center')

fig.savefig('out.png', dpi=100, facecolor='white')
